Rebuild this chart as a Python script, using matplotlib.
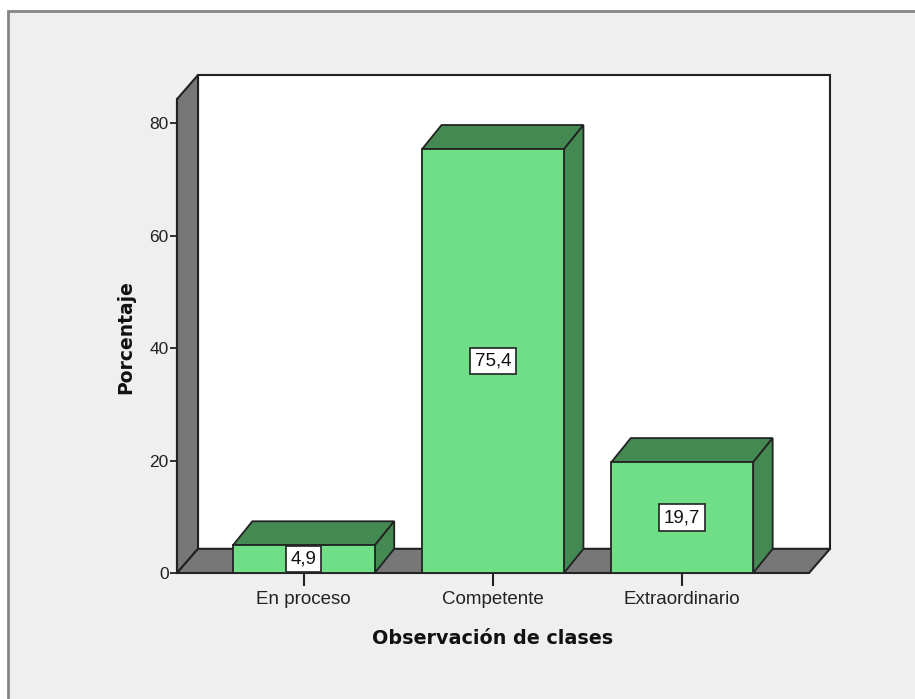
import numpy as np
import matplotlib
matplotlib.use("Agg")
from matplotlib import pyplot as plt
from matplotlib.patches import Polygon, Rectangle

categorias = ["En proceso", "Competente", "Extraordinario"]
porcentajes = [4.9, 75.4, 19.7]
etiquetas = ["4,9", "75,4", "19,7"]
yticks = [0, 20, 40, 60, 80]

verde = "#70dd87"
verde_osc = "#448852"
gris = "#777777"
fondo = "#efefef"

fig = plt.figure(figsize=(9.15, 6.99), dpi=100)
fig.patch.set_facecolor("white")
# marco exterior gris claro
fig.patches.append(Rectangle((8 / 915, -0.01), 1.0, 1 - 11 / 699 + 0.01,
                             transform=fig.transFigure, facecolor=fondo,
                             edgecolor="#858585", linewidth=2.0, zorder=-5))

ax = fig.add_axes([177 / 915, (699 - 573) / 699, (830 - 177) / 915, (573 - 75) / 699])
ax.set_zorder(2)
ax.patch.set_visible(False)

x = np.arange(len(categorias))
x0, x1 = -0.67, 2.67       # borde frontal del suelo
top = 84.3                  # altura de la pared
dx, dy = 0.111, 4.3         # profundidad de las paredes
bdx, bdy = 0.103, 4.3       # profundidad de las barras
ancho = 0.75

ax.set_xlim(x0, x1 + dx)
ax.set_ylim(0, top + dy)

# pared trasera, pared izquierda y suelo
ax.add_patch(Rectangle((x0 + dx, dy), x1 - x0, top, facecolor="white",
                       edgecolor="#222222", linewidth=1.5, clip_on=False, zorder=1))
ax.add_patch(Polygon([(x0, 0), (x0 + dx, dy), (x0 + dx, top + dy), (x0, top)],
                     facecolor=gris, edgecolor="#222222", linewidth=1.5,
                     clip_on=False, zorder=2))
ax.add_patch(Polygon([(x0, 0), (x1, 0), (x1 + dx, dy), (x0 + dx, dy)],
                     facecolor=gris, edgecolor="#222222", linewidth=1.5,
                     clip_on=False, zorder=2))

bars = ax.bar(x, porcentajes, width=ancho, color=verde, edgecolor="#222222",
              linewidth=1.3, zorder=5)
for b, v, lab in zip(bars, porcentajes, etiquetas):
    l = b.get_x()
    r = l + b.get_width()
    ax.add_patch(Polygon([(l, v), (l + bdx, v + bdy), (r + bdx, v + bdy), (r, v)],
                         facecolor=verde_osc, edgecolor="#222222", linewidth=1.3,
                         clip_on=False, zorder=4))
    ax.add_patch(Polygon([(r, 0), (r + bdx, bdy), (r + bdx, v + bdy), (r, v)],
                         facecolor=verde_osc, edgecolor="#222222", linewidth=1.3,
                         clip_on=False, zorder=4))
    ax.text(b.get_x() + b.get_width() / 2, v / 2, lab, ha="center", va="center",
            fontsize=13.5, family="Liberation Sans", color="#111111", zorder=6,
            bbox=dict(boxstyle="square,pad=0.25", facecolor="white",
                      edgecolor="#222222", linewidth=1.2))

for s in ["top", "right", "bottom"]:
    ax.spines[s].set_visible(False)
ax.spines["left"].set_bounds(0, top)
ax.spines["left"].set_linewidth(1.5)
ax.spines["left"].set_color("#222222")
ax.spines["left"].set_zorder(3)

ax.set_yticks(yticks)
ax.set_yticklabels([str(t) for t in yticks], fontsize=12.5, family="Liberation Sans",
                   color="#222222")
ax.tick_params(axis="y", length=5, width=1.3, pad=1, color="#222222")
ax.set_xticks(x)
ax.set_xticklabels(categorias, fontsize=13.5, family="Liberation Sans", color="#222222")
ax.tick_params(axis="x", length=9, width=1.5, pad=4, color="#222222")

fig.text(126 / 915, 1 - 337 / 699, "Porcentaje", rotation=90, ha="center", va="center",
         fontsize=13.5, fontweight="bold", family="DejaVu Sans", color="#111111")
fig.text(493 / 915, 1 - 638 / 699, "Observación de clases", ha="center", va="center",
         fontsize=13.8, fontweight="bold", family="DejaVu Sans", color="#111111")

plt.savefig("out.png", dpi=100, facecolor=fig.get_facecolor())
plt.close("all")
